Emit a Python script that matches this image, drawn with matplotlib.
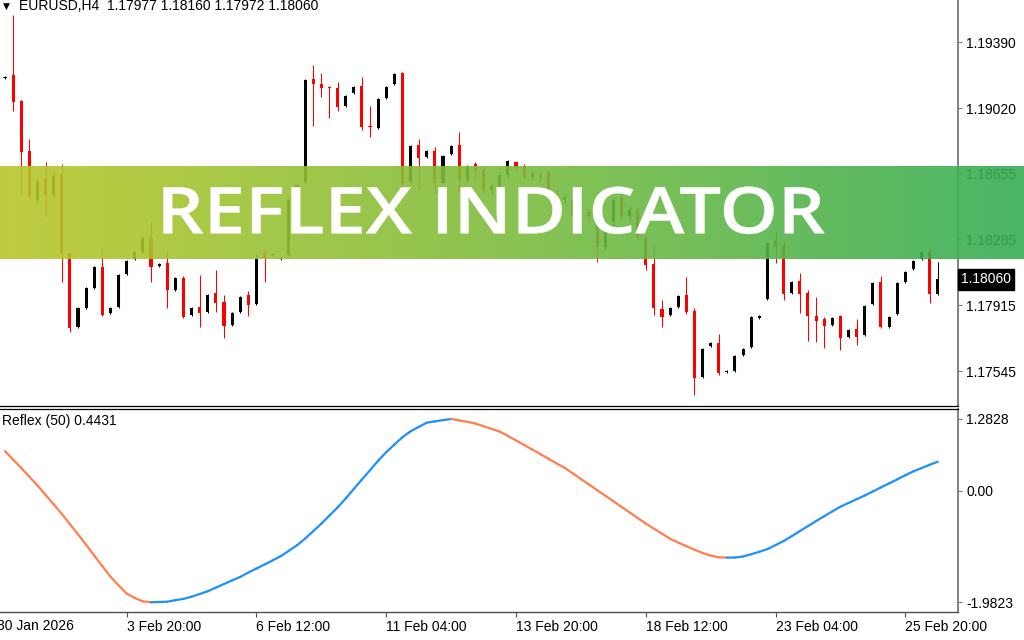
#!/usr/bin/python
# -*- Coding: utf-8 -*-

import numpy as np
import matplotlib
matplotlib.use("Agg")
from matplotlib import pyplot as plt
from matplotlib.collections import LineCollection
from matplotlib.colors import LinearSegmentedColormap
from matplotlib.textpath import TextPath
from matplotlib.patches import PathPatch
from matplotlib.font_manager import FontProperties
import matplotlib.transforms as mtransforms

# ---- data (EURUSD H4) ----
header = "EURUSD,H4  1.17977 1.18160 1.17972 1.18060"

opens = [1.19188, 1.19205, 1.19060, 1.18780, 1.18505, 1.18628, 1.18533, 1.18645, 1.18208, 1.17794,
         1.17900, 1.18012, 1.18130, 1.17872, 1.17906, 1.18091, 1.18175, 1.18214, 1.18292, 1.18136,
         1.18152, 1.18001, 1.18068, 1.17861, 1.17906, 1.17878, 1.17984, 1.17934, 1.17805, 1.17878,
         1.17973, 1.17923, 1.18208, 1.18197, 1.18175, 1.18197, 1.18528, 1.18606, 1.19183, 1.19155,
         1.19138, 1.19132, 1.19032, 1.19104, 1.19144, 1.18920, 1.18908, 1.19076, 1.19155, 1.19216,
         1.18606, 1.18813, 1.18746, 1.18780, 1.18600, 1.18763, 1.18813, 1.18617, 1.18707, 1.18673,
         1.18561, 1.18584, 1.18645, 1.18718, 1.18696, 1.18634, 1.18651, 1.18662, 1.18544, 1.18505,
         1.18505, 1.18393, 1.18438, 1.18438, 1.18242, 1.18382, 1.18516, 1.18416, 1.18449, 1.18292,
         1.18147, 1.17895, 1.17861, 1.17906, 1.17973, 1.17884, 1.17514, 1.17688, 1.17704, 1.17542,
         1.17548, 1.17637, 1.17682, 1.17844, 1.17951, 1.18281, 1.18248, 1.17984, 1.18052, 1.17984,
         1.17856, 1.17839, 1.17805, 1.17856, 1.17738, 1.17783, 1.17749, 1.17923, 1.18046, 1.17794,
         1.17867, 1.18046, 1.18119, 1.18175, 1.18214, 1.17977]
highs = [1.19200, 1.19541, 1.19065, 1.18847, 1.18628, 1.18718, 1.18662, 1.18707, 1.18214, 1.17906,
         1.18018, 1.18136, 1.18242, 1.17906, 1.18091, 1.18169, 1.18220, 1.18298, 1.18382, 1.18152,
         1.18214, 1.18074, 1.18080, 1.17906, 1.18085, 1.17979, 1.18113, 1.17973, 1.17878, 1.17968,
         1.17996, 1.18203, 1.18225, 1.18208, 1.18186, 1.18516, 1.18595, 1.19183, 1.19261, 1.19216,
         1.19144, 1.19166, 1.19093, 1.19144, 1.19194, 1.19032, 1.19076, 1.19144, 1.19216, 1.19222,
         1.18813, 1.18847, 1.18785, 1.18802, 1.18757, 1.18813, 1.18886, 1.18701, 1.18718, 1.18684,
         1.18600, 1.18662, 1.18729, 1.18724, 1.18707, 1.18668, 1.18662, 1.18673, 1.18561, 1.18539,
         1.18522, 1.18449, 1.18455, 1.18449, 1.18393, 1.18516, 1.18539, 1.18472, 1.18460, 1.18304,
         1.18253, 1.17945, 1.17906, 1.17973, 1.18074, 1.17900, 1.17676, 1.17710, 1.17755, 1.17553,
         1.17637, 1.17676, 1.17856, 1.17861, 1.18270, 1.18332, 1.18276, 1.18052, 1.18096, 1.18001,
         1.17962, 1.17850, 1.17850, 1.17861, 1.17783, 1.17839, 1.17917, 1.18046, 1.18080, 1.17856,
         1.18046, 1.18108, 1.18169, 1.18220, 1.18236, 1.18160]
lows = [1.19183, 1.19004, 1.18544, 1.18516, 1.18494, 1.18410, 1.18522, 1.18046, 1.17766, 1.17788,
        1.17895, 1.18007, 1.17856, 1.17867, 1.17900, 1.18085, 1.18169, 1.18208, 1.18046, 1.18130,
        1.17900, 1.17996, 1.17844, 1.17856, 1.17794, 1.17872, 1.17878, 1.17732, 1.17800, 1.17872,
        1.17856, 1.17917, 1.18046, 1.18192, 1.18169, 1.18186, 1.18516, 1.18600, 1.18920, 1.19082,
        1.18964, 1.19004, 1.19026, 1.19099, 1.18897, 1.18858, 1.18903, 1.19071, 1.19149, 1.18505,
        1.18595, 1.18561, 1.18740, 1.18544, 1.18595, 1.18757, 1.18550, 1.18606, 1.18628, 1.18544,
        1.18539, 1.18561, 1.18628, 1.18662, 1.18623, 1.18617, 1.18606, 1.18528, 1.18477, 1.18483,
        1.18399, 1.18365, 1.18393, 1.18158, 1.18231, 1.18360, 1.18404, 1.18393, 1.18281, 1.18113,
        1.17861, 1.17794, 1.17856, 1.17900, 1.17867, 1.17413, 1.17508, 1.17682, 1.17525, 1.17536,
        1.17542, 1.17632, 1.17676, 1.17839, 1.17945, 1.18152, 1.17945, 1.17979, 1.17872, 1.17716,
        1.17710, 1.17676, 1.17800, 1.17665, 1.17732, 1.17693, 1.17744, 1.17917, 1.17788, 1.17788,
        1.17861, 1.18040, 1.18113, 1.18169, 1.17928, 1.17972]
closes = [1.19194, 1.19054, 1.18774, 1.18522, 1.18606, 1.18533, 1.18640, 1.18208, 1.17788, 1.17900,
          1.18012, 1.18130, 1.17861, 1.17900, 1.18085, 1.18164, 1.18214, 1.18292, 1.18130, 1.18147,
          1.18001, 1.18068, 1.17850, 1.17900, 1.17872, 1.17973, 1.17928, 1.17800, 1.17872, 1.17962,
          1.17917, 1.18175, 1.18180, 1.18203, 1.18180, 1.18505, 1.18589, 1.19177, 1.19155, 1.19132,
          1.19132, 1.19026, 1.19088, 1.19138, 1.18914, 1.18914, 1.19071, 1.19138, 1.19211, 1.18600,
          1.18808, 1.18740, 1.18780, 1.18600, 1.18752, 1.18808, 1.18617, 1.18690, 1.18673, 1.18561,
          1.18584, 1.18645, 1.18724, 1.18690, 1.18634, 1.18651, 1.18628, 1.18544, 1.18505, 1.18522,
          1.18416, 1.18438, 1.18416, 1.18242, 1.18371, 1.18505, 1.18416, 1.18449, 1.18298, 1.18141,
          1.17900, 1.17850, 1.17900, 1.17968, 1.17878, 1.17508, 1.17671, 1.17704, 1.17536, 1.17548,
          1.17632, 1.17671, 1.17850, 1.17856, 1.18264, 1.18242, 1.17979, 1.18046, 1.17979, 1.17856,
          1.17828, 1.17800, 1.17844, 1.17732, 1.17777, 1.17738, 1.17912, 1.18040, 1.17794, 1.17850,
          1.18040, 1.18102, 1.18164, 1.18214, 1.17979, 1.18060]

reflex = [0.711, 0.559, 0.410, 0.255, 0.098, -0.069, -0.237, -0.409, -0.590, -0.770,
          -0.958, -1.151, -1.340, -1.525, -1.680, -1.826, -1.906, -1.965, -1.9823, -1.977,
          -1.972, -1.945, -1.922, -1.883, -1.835, -1.785, -1.721, -1.657, -1.592, -1.530,
          -1.452, -1.381, -1.309, -1.236, -1.161, -1.065, -0.967, -0.848, -0.716, -0.582,
          -0.438, -0.294, -0.134, 0.036, 0.203, 0.370, 0.538, 0.691, 0.826, 0.958,
          1.063, 1.140, 1.217, 1.240, 1.263, 1.2828, 1.256, 1.233, 1.202, 1.154,
          1.106, 1.058, 0.981, 0.901, 0.821, 0.739, 0.657, 0.575, 0.493, 0.413,
          0.315, 0.215, 0.116, 0.016, -0.082, -0.182, -0.281, -0.381, -0.481, -0.579,
          -0.670, -0.759, -0.850, -0.919, -0.983, -1.046, -1.103, -1.151, -1.181, -1.186,
          -1.185, -1.167, -1.126, -1.083, -1.035, -0.964, -0.891, -0.805, -0.714, -0.625,
          -0.536, -0.449, -0.363, -0.280, -0.214, -0.146, -0.080, -0.009, 0.064, 0.135,
          0.207, 0.280, 0.351, 0.408, 0.467, 0.522]
reflex_label = "Reflex (50) 0.4431"

price_ticks = [1.19390, 1.19020, 1.18655, 1.18285, 1.17915, 1.17545]
reflex_ticks = [1.2828, 0.0, -1.9823]
reflex_tick_labels = ["1.2828", "0.00", "-1.9823"]
time_bars = [15, 31, 47, 63, 79, 95, 111]
time_labels = ["3 Feb 20:00", "6 Feb 12:00", "11 Feb 04:00", "13 Feb 20:00",
               "18 Feb 12:00", "23 Feb 04:00", "25 Feb 20:00"]
first_bar = -1
first_label = "30 Jan 2026"
banner_text = "REFLEX INDICATOR"

# ---- layout helpers (pixel boxes on a 1024x640 canvas) ----
W, H = 1024.0, 640.0


def box(x0, y0, x1, y1):
    return [x0 / W, 1 - y1 / H, (x1 - x0) / W, (y1 - y0) / H]


FONT = ['Liberation Sans', 'DejaVu Sans']
plt.rcParams['font.family'] = FONT
plt.rcParams['font.size'] = 10
AXIS_GREY = '#7a7a7a'

fig = plt.figure(figsize=(10.24, 6.4), dpi=100)
fig.patch.set_facecolor('white')

ax = fig.add_axes(box(0, 0, 958, 406))
ax2 = fig.add_axes(box(0, 408.5, 958, 612.3), sharex=ax)

n = len(closes)
idx = np.arange(n)
o = np.array(opens)
c = np.array(closes)
hi = np.array(highs)
lo = np.array(lows)
up = c >= o
colors = np.where(up, '#000000', '#ff0000')

# wicks and bodies
ax.vlines(idx, lo, hi, colors=colors, linewidth=0.75, zorder=2)
body_lo = np.minimum(o, c)
body_h = np.maximum(np.abs(c - o), 0.00006)
ax.bar(idx, body_h, bottom=body_lo, width=0.38, color=colors, linewidth=0, zorder=3)

ax.set_xlim(-0.617, 117.5)
ax.set_ylim(1.173516, 1.196252)

for a in (ax, ax2):
    a.spines['left'].set_visible(False)
    a.spines['right'].set_color(AXIS_GREY)
    a.spines['right'].set_linewidth(1.3)
    a.yaxis.tick_right()
    a.tick_params(axis='y', direction='out', length=3, width=0.8, color=AXIS_GREY,
                  pad=3, labelsize=10, labelcolor='black')
ax.spines['top'].set_visible(False)
ax.spines['bottom'].set_color('black')
ax.spines['bottom'].set_linewidth(0.9)
ax.set_yticks(price_ticks)
ax.set_yticklabels(['%.5f' % p for p in price_ticks])
ax.tick_params(axis='x', bottom=False, labelbottom=False)

# header
fig.text(3 / W, 1 - 6.5 / H, u"\u25BC", fontsize=6.5, va='center', ha='left',
         family=['DejaVu Sans'])
fig.text(19 / W, 1 - 6.5 / H, header, fontsize=10, va='center', ha='left')

# current price label
trans = mtransforms.blended_transform_factory(ax.transAxes, ax.transData)
ax.text(1.0 + 3 / 958.0, closes[-1], '%.5f' % closes[-1], transform=trans,
        color='white', fontsize=10, va='center', ha='left', clip_on=False,
        bbox=dict(boxstyle='square,pad=0.22', facecolor='black', edgecolor='black'))

# ---- reflex sub window ----
vals = np.array(reflex)
pts = np.column_stack([idx, vals])
segs = np.stack([pts[:-1], pts[1:]], axis=1)
seg_cols = np.where(np.diff(vals) > 0, '#1e90ff', '#ff7f50')
ax2.add_collection(LineCollection(segs, colors=seg_cols, linewidths=1.6,
                                  capstyle='round', zorder=3))
ax2.set_ylim(-2.1607, 1.4695)
ax2.set_yticks(reflex_ticks)
ax2.set_yticklabels(reflex_tick_labels)
ax2.spines['top'].set_color('black')
ax2.spines['top'].set_linewidth(0.9)
ax2.spines['bottom'].set_color('#505050')
ax2.spines['bottom'].set_linewidth(1.0)
ax2.set_xticks(time_bars)
ax2.set_xticklabels(time_labels, ha='left')
ax2.tick_params(axis='x', direction='out', length=3.5, width=0.8, color='#505050',
                pad=2, labelsize=10)
ax2.text(first_bar, -0.035, first_label, transform=mtransforms.blended_transform_factory(
    ax2.transData, ax2.transAxes), ha='left', va='top', fontsize=10, clip_on=False)
ax2.text(2 / 958.0, 1 - 13 / 203.8, reflex_label, transform=ax2.transAxes,
         ha='left', va='center', fontsize=10)

# ---- banner overlay (axes in pixel units) ----
bh = 259.5 - 166
bax = fig.add_axes(box(0, 166, 1024, 259.5), zorder=10)
cmap = LinearSegmentedColormap.from_list('banner', ['#b9c72a', '#7dbd3e', '#35ad55'])
grad = np.linspace(0, 1, 512).reshape(1, -1)
bax.imshow(grad, cmap=cmap, aspect='auto', extent=[0, W, 0, bh], alpha=0.9)
bax.set_xlim(0, W)
bax.set_ylim(0, bh)
bax.axis('off')

# title drawn as a path so it can be widened like the original wide font
tp = TextPath((0, 0), banner_text, size=65,
              prop=FontProperties(family=['Open Sans', 'DejaVu Sans'], weight='semibold'))
ext = tp.get_extents()
sx = 661.0 / ext.width
sy = 46.7 / ext.y1
tr = mtransforms.Affine2D().translate(-ext.x0, 0).scale(sx, sy).translate(163.5, 259.5 - 233.3)
bax.add_patch(PathPatch(tr.transform_path(tp), facecolor='white', edgecolor='white',
                        linewidth=0.3))

fig.savefig('out.png', dpi=100)
